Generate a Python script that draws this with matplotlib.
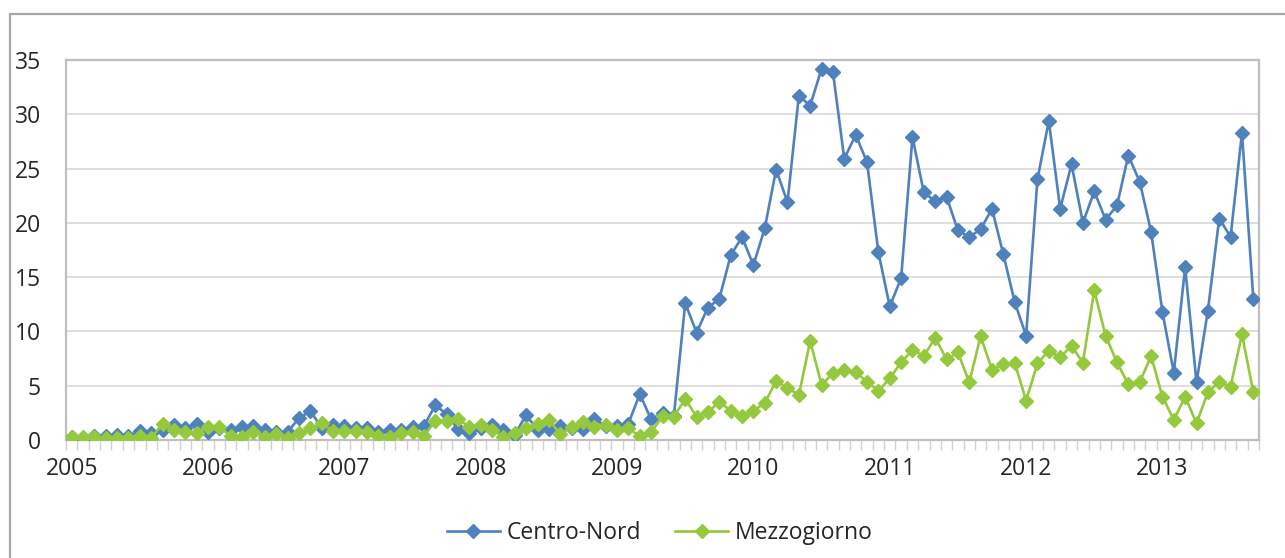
import numpy as np
import matplotlib.pyplot as plt
from matplotlib.patches import Rectangle
from matplotlib.lines import Line2D

plt.rcParams['font.family'] = ['Open Sans', 'DejaVu Sans']

# monthly series, Jan 2005 - Sep 2013
years = ['2005', '2006', '2007', '2008', '2009', '2010', '2011', '2012', '2013']

centro_nord = [
    0.3, 0.1, 0.4, 0.4, 0.45, 0.4, 0.8, 0.6, 0.95, 1.35, 1.1, 1.5,
    0.75, 1.1, 0.9, 1.2, 1.26, 0.9, 0.75, 0.75, 2.0, 2.67, 1.15, 1.35,
    1.29, 1.07, 1.07, 0.77, 0.92, 0.92, 1.17, 1.29, 3.2, 2.4, 1.0, 0.6,
    1.07, 1.38, 0.92, 0.5, 2.3, 0.92, 0.98, 1.29, 1.07, 0.98, 1.93, 1.29,
    1.3, 1.5, 4.24, 1.9, 2.45, 2.2, 12.6, 9.9, 12.2, 13.0, 17.0, 18.7,
    16.1, 19.5, 24.9, 21.9, 31.7, 30.8, 34.2, 33.9, 25.9, 28.1, 25.6, 17.3,
    12.3, 14.9, 27.9, 22.8, 22.0, 22.4, 19.3, 18.7, 19.4, 21.3, 17.1, 12.7,
    9.6, 24.0, 29.4, 21.3, 25.4, 20.0, 22.9, 20.3, 21.6, 26.2, 23.8, 19.2,
    11.8, 6.2, 15.9, 5.3, 11.9, 20.4, 18.7, 28.3, 13.0,
]

mezzogiorno = [
    0.31, 0.28, 0.28, 0.2, 0.15, 0.2, 0.37, 0.2, 1.47, 0.92, 0.77, 0.68,
    1.17, 1.2, 0.37, 0.31, 0.77, 0.25, 0.55, 0.15, 0.6, 1.07, 1.53, 0.83,
    0.86, 0.86, 0.77, 0.37, 0.31, 0.68, 0.77, 0.37, 1.75, 1.75, 1.9, 1.23,
    1.38, 0.92, 0.31, 0.61, 1.07, 1.47, 1.84, 0.55, 1.17, 1.69, 1.23, 1.38,
    0.95, 1.07, 0.35, 0.7, 2.2, 2.15, 3.78, 2.15, 2.55, 3.53, 2.7, 2.24,
    2.7, 3.38, 5.46, 4.82, 4.14, 9.12, 5.07, 6.14, 6.45, 6.23, 5.37, 4.51,
    5.68, 7.15, 8.3, 7.72, 9.43, 7.43, 8.07, 5.31, 9.58, 6.45, 6.97, 7.12,
    3.62, 7.06, 8.23, 7.61, 8.66, 7.12, 13.8, 9.6, 7.15, 5.12, 5.31, 7.74,
    4.0, 1.84, 4.0, 1.53, 4.39, 5.37, 4.91, 9.76, 4.39,
]

blue = '#4F81BD'
green = '#94C83D'
grey = '#BFBFBF'
txt = '#262626'

x = np.arange(len(centro_nord))

fig = plt.figure(figsize=(12.85, 5.58), dpi=100)
ax = fig.add_axes([66 / 1285, 1 - 440 / 558, (1259 - 66) / 1285, (440 - 60) / 558])

ax.plot(x, centro_nord, color=blue, lw=1.9, marker='D', ms=7, zorder=3)
ax.plot(x, mezzogiorno, color=green, lw=1.9, marker='D', ms=7, zorder=4)

ax.set_xlim(-0.5, len(x) - 0.5)
ax.set_ylim(0, 35)

ax.set_yticks(range(0, 36, 5))
ax.set_xticks(np.arange(0, len(x), 12))
ax.set_xticklabels(years)
ax.set_xticks(np.arange(-0.5, len(x), 1), minor=True)
ax.tick_params(axis='y', length=0, pad=18, labelsize=16.5, labelcolor=txt)
ax.tick_params(axis='x', which='major', length=0, pad=12, labelsize=16.5, labelcolor=txt)
ax.tick_params(axis='x', which='minor', length=7, width=1, color='#D0D0D0')

ax.yaxis.grid(True, color='#D9D9D9', lw=1.2)
ax.set_axisbelow(True)
for s in ax.spines.values():
    s.set_color(grey)
    s.set_linewidth(1.6)

handles = [
    Line2D([], [], color=blue, lw=1.9, marker='D', ms=7),
    Line2D([], [], color=green, lw=1.9, marker='D', ms=7),
]
fig.legend(handles, ['Centro-Nord', 'Mezzogiorno'], loc='center',
           bbox_to_anchor=(660 / 1285, 1 - 533 / 558), ncol=2, frameon=False,
           fontsize=16.5, handlelength=2.3, columnspacing=1.5, handletextpad=0.3,
           labelcolor=txt)

# outer chart border
fig.add_artist(Rectangle((10 / 1285, -0.1), 1.2, 0.1 + 1 - 14 / 558,
                         transform=fig.transFigure, fill=False,
                         edgecolor='#A6A6A6', lw=1.6))

fig.savefig('out.png', dpi=100)
